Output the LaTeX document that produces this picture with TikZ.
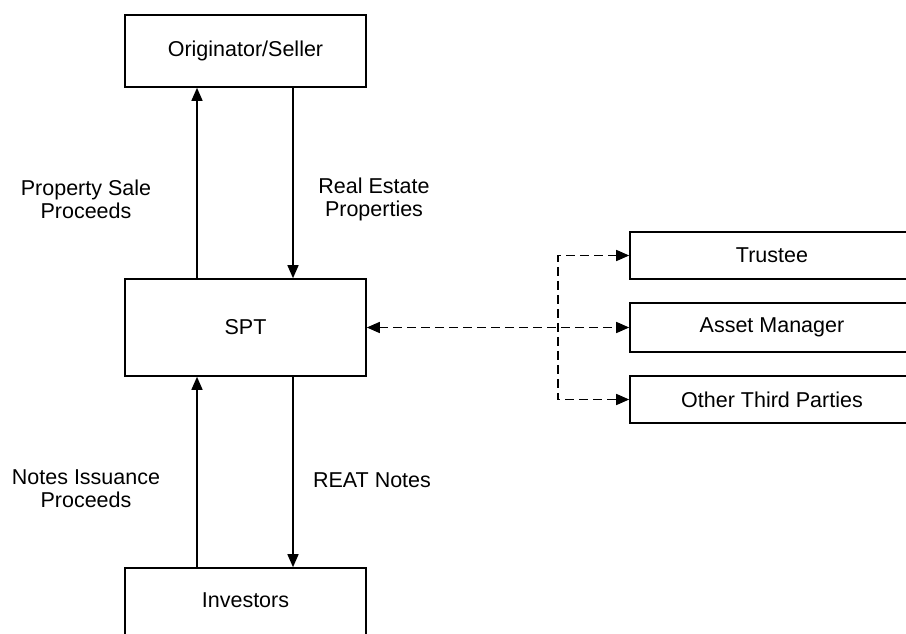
\documentclass[tikz,border=0pt]{standalone}
\usepackage{fontspec}
\setmainfont{Liberation Sans}
\usetikzlibrary{arrows.meta}
\begin{document}
\begin{tikzpicture}[x=1pt,y=-1pt,
  box/.style={draw=black,line width=1.6pt,rectangle,inner sep=0pt,fill=white,
    font=\fontsize{21.5}{23}\selectfont},
  lbl/.style={align=center,inner sep=0pt,font=\fontsize{21.5}{23}\selectfont},
  arr/.style={line width=1.5pt,-{Triangle[length=13pt,width=11pt]}},
  dsh/.style={line width=1.5pt,dash pattern=on 9pt off 5pt,
    {Triangle[length=13pt,width=11pt]}-{Triangle[length=13pt,width=11pt]}}]
\clip (0,0) rectangle (906,634);
\fill[white] (0,0) rectangle (906,634);
% main column
\node[box,minimum width=241pt,minimum height=72pt] (orig) at (245.5,51) {Originator/Seller};
\node[box,minimum width=241pt,minimum height=97pt] (spt) at (245.5,327.5) {SPT};
\node[box,minimum width=241pt,minimum height=72pt,text depth=8pt] (inv) at (245.5,604) {Investors};
% right boxes
\node[box,minimum width=284pt,minimum height=47pt] (tru) at (772,255.5) {Trustee};
\node[box,minimum width=284pt,minimum height=49pt] (am) at (772,327.5) {Asset Manager};
\node[box,minimum width=284pt,minimum height=47pt] (oth) at (772,399.5) {Other Third Parties};
% vertical arrows
\draw[arr] ([xshift=-48.5pt]spt.north) -- ([xshift=-48.5pt]orig.south);
\draw[arr] ([xshift=47.5pt]orig.south) -- ([xshift=47.5pt]spt.north);
\draw[arr] ([xshift=-48.5pt]inv.north) -- ([xshift=-48.5pt]spt.south);
\draw[arr] ([xshift=47.5pt]spt.south) -- ([xshift=47.5pt]inv.north);
% labels
\node[lbl] (psp) at (86,199) {Property Sale\\Proceeds};
\node[lbl] (rep) at (374,199) {Real Estate\\Properties};
\node[lbl] (nip) at (86,488.5) {Notes Issuance\\Proceeds};
\node[lbl] (reat) at (372,480) {REAT Notes};
% dashed connectors
\coordinate (jx) at (558,0);
\draw[dsh] (spt.east) -- (am.west);
\draw[dsh] (tru.west) -- (jx |- tru.west) -- (jx |- oth.west) -- (oth.west);
\end{tikzpicture}
\end{document}
